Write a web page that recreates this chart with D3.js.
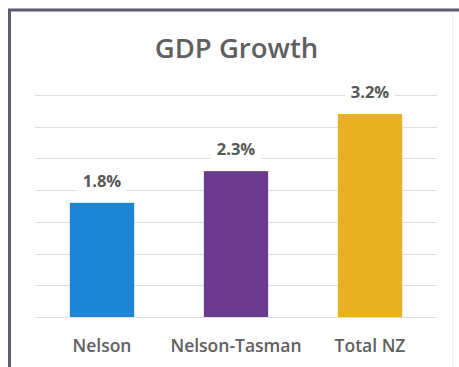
<!DOCTYPE html>
<html>
<head>
<meta charset="utf-8">
<script src="https://cdn.jsdelivr.net/npm/d3@7"></script>
<style>
  html, body { margin: 0; padding: 0; background: #ffffff; }
  svg { display: block; }
  text { font-family: "Open Sans", "Noto Sans", sans-serif; }
</style>
</head>
<body>
<svg id="chart" width="459" height="367"></svg>
<script>
// GDP growth by region
const categories = ["Nelson", "Nelson-Tasman", "Total NZ"];
const growth = [1.8, 2.3, 3.2];
const valueLabels = ["1.8%", "2.3%", "3.2%"];
const barColors = ["#1c86d4", "#6b3c8d", "#e9b021"];
const gridTicks = [0, 0.5, 1, 1.5, 2, 2.5, 3, 3.5];
const chartTitle = "GDP Growth";

const svg = d3.select("#chart");
const W = 459, H = 367;

svg.append("rect").attr("width", W).attr("height", H).attr("fill", "#ffffff");

// frame: left and top edges
svg.append("path")
  .attr("d", `M9.5,${H + 2} L9.5,10 L${W + 2},10`)
  .attr("fill", "none")
  .attr("stroke", "#5f5a70")
  .attr("stroke-width", 3);
svg.append("line")
  .attr("x1", 452.5).attr("x2", 452.5).attr("y1", 12).attr("y2", H)
  .attr("stroke", "#efedf2").attr("stroke-width", 1);

const x = d3.scaleBand()
  .domain(categories)
  .range([35, 437])
  .paddingInner(0.52)
  .paddingOuter(0.26);

const y = d3.scaleLinear()
  .domain([0, 3.5])
  .range([317, 95]);

// horizontal gridlines
svg.append("g")
  .selectAll("line")
  .data(gridTicks)
  .join("line")
  .attr("x1", 35).attr("x2", 437)
  .attr("y1", d => Math.round(y(d)) + 0.5)
  .attr("y2", d => Math.round(y(d)) + 0.5)
  .attr("stroke", "#dedede")
  .attr("stroke-width", 1);

// title
svg.append("text")
  .attr("x", 236.5).attr("y", 58)
  .attr("text-anchor", "middle")
  .attr("font-size", 27.5)
  .attr("font-weight", 600)
  .attr("fill", "#5f5f5f")
  .text(chartTitle);

const data = categories.map((c, i) => ({ c, v: growth[i], label: valueLabels[i], color: barColors[i] }));

// bars
svg.append("g")
  .selectAll("rect")
  .data(data)
  .join("rect")
  .attr("x", d => x(d.c))
  .attr("y", d => y(d.v))
  .attr("width", x.bandwidth())
  .attr("height", d => y(0) - y(d.v))
  .attr("fill", d => d.color);

// value labels with a white backing so gridlines break around them
const vl = svg.append("g")
  .selectAll("g")
  .data(data)
  .join("g")
  .attr("transform", d => `translate(${x(d.c) + x.bandwidth() / 2},${y(d.v) - 16})`);
vl.append("rect")
  .attr("x", -25).attr("y", -15)
  .attr("width", 50).attr("height", 19)
  .attr("fill", "#ffffff");
vl.append("text")
  .attr("text-anchor", "middle")
  .attr("font-size", 16.5)
  .attr("font-weight", 700)
  .attr("fill", "#575757")
  .text(d => d.label);

// category axis labels
svg.append("g")
  .selectAll("text")
  .data(categories)
  .join("text")
  .attr("x", d => x(d) + x.bandwidth() / 2)
  .attr("y", 352)
  .attr("text-anchor", "middle")
  .attr("font-size", 17.5)
  .attr("font-weight", 600)
  .attr("fill", "#606060")
  .text(d => d);
</script>
</body>
</html>
